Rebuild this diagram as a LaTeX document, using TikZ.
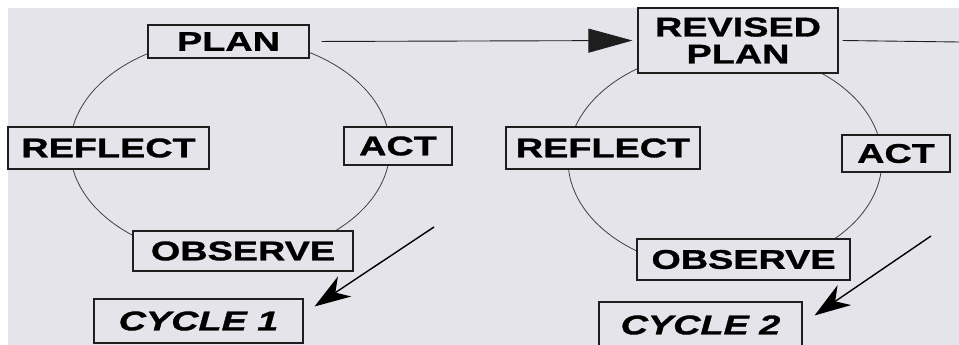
\documentclass[tikz,border=0pt]{standalone}
\usepackage{fontspec}
\usetikzlibrary{arrows.meta}
\newfontfamily\boxfont{Liberation Sans}[FakeStretch=1.4,FakeBold=1.2]
\definecolor{paper}{RGB}{228,228,234}
\definecolor{ink}{RGB}{30,30,30}
\begin{document}
\begin{tikzpicture}
	[ x=1pt, y=-1pt,
	  stage/.style={draw=ink,line width=1.1pt,fill=paper,inner sep=0pt,
	                font=\boxfont\bfseries\fontsize{27}{27}\selectfont,align=center},
	  cyclebox/.style={stage,font=\boxfont\bfseries\itshape\fontsize{27}{27}\selectfont},
	  loop/.style={draw=ink!85,line width=0.8pt},
	  link/.style={draw=ink,line width=0.9pt},
	  pointer/.style={draw=black,line width=1.4pt,-{Stealth[length=36pt,width=24pt,inset=11pt]}} ]

	\useasboundingbox (0,0) rectangle (959,345);
	\fill[paper] (8,8) rectangle (959,345);

	% cycle 1
	\draw[loop] (230,148) ellipse [x radius=160, y radius=110];
	\node[stage,minimum width=161pt,minimum height=33pt] (plan) at (228.5,41.5) {PLAN};
	\node[stage,minimum width=201pt,minimum height=42pt] (reflect1) at (108.5,148) {REFLECT};
	\node[stage,minimum width=108pt,minimum height=38pt] (act1) at (398,146) {ACT};
	\node[stage,minimum width=220pt,minimum height=40pt] (observe1) at (243,251) {OBSERVE};
	\node[cyclebox,minimum width=209pt,minimum height=44pt] (cyc1) at (198.5,321) {CYCLE 1};

	% cycle 2
	\draw[loop] (725,160) ellipse [x radius=157, y radius=110];
	\node[stage,minimum width=200pt,minimum height=65pt] (revplan) at (738,40.5) {REVISED\\PLAN};
	\node[stage,minimum width=194pt,minimum height=42pt] (reflect2) at (603,148) {REFLECT};
	\node[stage,minimum width=108pt,minimum height=37pt] (act2) at (896,153.5) {ACT};
	\node[stage,minimum width=213pt,minimum height=41pt] (observe2) at (743.5,259.5) {OBSERVE};
	\node[cyclebox,minimum width=203pt,minimum height=46pt] (cyc2) at (700.5,325) {CYCLE 2};

	% links
	\draw[link,-{Triangle[length=44pt,width=24pt]},shorten <=12pt,shorten >=5pt] (plan.east) -- (revplan.west);
	\coordinate (onward) at (959,42);
	\draw[link] ([xshift=4pt]revplan.east) -- (onward);

	\coordinate (c1tail) at (434,227);
	\coordinate (c2tail) at (931,236);
	\draw[pointer] (c1tail) -- ([shift={(11,8)}]cyc1.north east);
	\draw[pointer] (c2tail) -- ([shift={(12,14)}]cyc2.north east);

\end{tikzpicture}
\end{document}
